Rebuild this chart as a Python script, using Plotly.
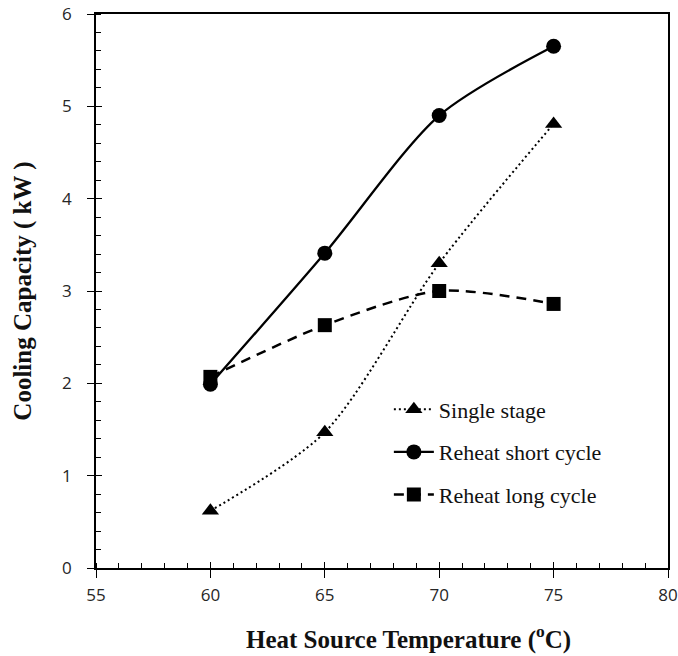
import plotly.graph_objects as go

x_temp = [60, 65, 70, 75]
single_stage = [0.62, 1.47, 3.30, 4.81]
reheat_short = [1.99, 3.41, 4.90, 5.65]
reheat_long = [2.07, 2.63, 3.00, 2.86]

x_ticks = [55, 60, 65, 70, 75, 80]
y_ticks = [0, 1, 2, 3, 4, 5, 6]

fig = go.Figure()

fig.add_trace(go.Scatter(
    x=x_temp, y=single_stage, name="Single stage", mode="lines+markers", legendgroup="a",
    line=dict(color="black", width=2, dash="2px,3px", shape="spline", smoothing=0.8),
    marker=dict(symbol="triangle-up", size=15, color="black")))
fig.add_trace(go.Scatter(
    x=x_temp, y=reheat_short, name="Reheat short cycle", mode="lines+markers", legendgroup="b",
    line=dict(color="black", width=2.3, shape="spline", smoothing=0.8),
    marker=dict(symbol="circle", size=15, color="black")))
fig.add_trace(go.Scatter(
    x=x_temp, y=reheat_long, name="Reheat long cycle", mode="lines+markers", legendgroup="c",
    line=dict(color="black", width=2.5, dash="10px,7px", shape="spline", smoothing=0.8),
    marker=dict(symbol="square", size=14, color="black")))

# invisible trace on overlay axes, used only to draw the inner half of the crossing major ticks
fig.add_trace(go.Scatter(x=[55, 80], y=[0, 6], xaxis="x2", yaxis="y2",
                         mode="markers", marker=dict(opacity=0), showlegend=False,
                         hoverinfo="skip"))

tickfont = dict(family="Open Sans, Liberation Sans, sans-serif", size=17, color="#262626")
titlefont = dict(family="Liberation Serif, Times New Roman, serif", size=25, color="#111")

fig.update_layout(
    width=678, height=656,
    margin=dict(l=96, r=10, t=14, b=88),
    paper_bgcolor="white", plot_bgcolor="white",
    showlegend=True,
    legend=dict(x=0.512, y=0.324, xanchor="left", yanchor="top",
                font=dict(family="Liberation Serif, Times New Roman, serif", size=22, color="#111"),
                bgcolor="rgba(0,0,0,0)", tracegroupgap=11, itemwidth=40),
    xaxis=dict(range=[55, 80], tickvals=x_ticks, ticks="outside", ticklen=8, tickwidth=1.3,
               tickcolor="black", showline=True, linecolor="black", linewidth=1.6, mirror=True,
               showgrid=False, zeroline=False, tickfont=tickfont, ticklabelstandoff=3,
               ticklabeloverflow="allow", automargin=False,
               minor=dict(dtick=1, ticks="inside", ticklen=5, tickcolor="black", tickwidth=1)),
    yaxis=dict(range=[0, 6], tickvals=y_ticks, ticks="outside", ticklen=7, tickwidth=1.3,
               tickcolor="black", showline=True, linecolor="black", linewidth=1.6, mirror=True,
               showgrid=False, zeroline=False, tickfont=tickfont, ticklabelstandoff=12,
               ticklabeloverflow="allow", automargin=False,
               minor=dict(dtick=0.2, ticks="inside", ticklen=5, tickcolor="black", tickwidth=1),
               title=dict(text="<b>Cooling Capacity ( kW )</b>", font=titlefont, standoff=23)),
    xaxis2=dict(range=[55, 80], overlaying="x", tickvals=x_ticks, ticks="inside", ticklen=6,
                tickwidth=1.3, tickcolor="black", showticklabels=False, showgrid=False,
                zeroline=False, showline=False, side="bottom"),
    yaxis2=dict(range=[0, 6], overlaying="y", tickvals=y_ticks, ticks="inside", ticklen=6,
                tickwidth=1.3, tickcolor="black", showticklabels=False, showgrid=False,
                zeroline=False, showline=False, side="left"),
    annotations=[dict(text="<b>Heat Source Temperature (<sup>o</sup>C)</b>",
                      xref="paper", yref="paper", x=0.547, y=-0.126,
                      xanchor="center", yanchor="middle", showarrow=False, font=titlefont)],
)

fig.write_html("out.html", config={"displayModeBar": False},
               post_script="document.body.style.margin='0';document.body.style.overflow='hidden';")
